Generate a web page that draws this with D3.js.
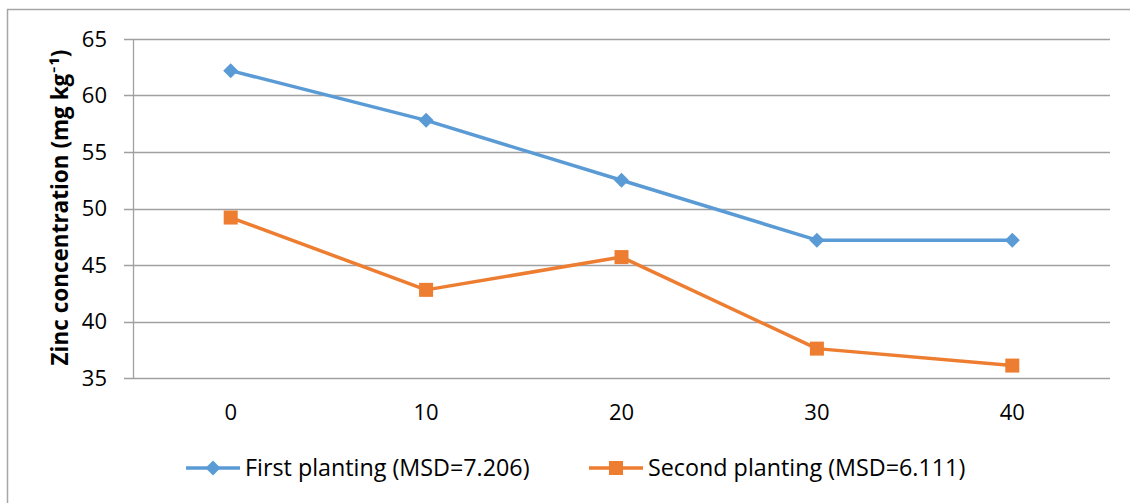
<!DOCTYPE html>
<html><head><meta charset="utf-8">
<script src="https://cdn.jsdelivr.net/npm/d3@7"></script>
<style>body{margin:0;background:#fff}svg{display:block}text{font-family:"Open Sans",Calibri,sans-serif}</style>
</head><body>
<svg id="c" width="1130" height="503"></svg>
<script>
const categories = [0, 10, 20, 30, 40];
const firstPlanting = [62.2, 57.8, 52.5, 47.2, 47.2];
const secondPlanting = [49.2, 42.8, 45.7, 37.6, 36.1];
const yTicks = [35, 40, 45, 50, 55, 60, 65];
const seriesNames = ["First planting (MSD=7.206)", "Second planting (MSD=6.111)"];
const yLabel = "Zinc concentration (mg kg\u207B\u00B9)";

const svg = d3.select("#c");
const L = 133, R = 1110, T = 39, B = 378;
const x = d3.scalePoint().domain(categories).range([L, R]).padding(0.5);
const y = d3.scaleLinear().domain([35, 65]).range([B, T]);

// outer border
svg.append("rect").attr("x", 7.5).attr("y", 9.5).attr("width", 1140).attr("height", 520)
  .attr("fill", "none").attr("stroke", "#a6a6a6").attr("stroke-width", 1.5);

// gridlines
svg.append("g").selectAll("line").data(yTicks).join("line")
  .attr("x1", 124).attr("x2", R).attr("y1", d => Math.round(y(d)) + 0.5).attr("y2", d => Math.round(y(d)) + 0.5)
  .attr("stroke", "#a0a0a0").attr("stroke-width", 1.3);
// y axis line
svg.append("line").attr("x1", L + 0.5).attr("x2", L + 0.5).attr("y1", T).attr("y2", B + 1)
  .attr("stroke", "#a0a0a0").attr("stroke-width", 1.3);

// y tick labels
svg.append("g").selectAll("text").data(yTicks).join("text")
  .attr("x", 107).attr("y", d => y(d)).attr("dy", "0.36em").attr("text-anchor", "end")
  .attr("font-size", 22).attr("fill", "#000").text(d => d);

// x tick labels
svg.append("g").selectAll("text").data(categories).join("text")
  .attr("x", d => x(d)).attr("y", 420).attr("text-anchor", "middle")
  .attr("font-size", 22).attr("fill", "#000").text(d => d);

// y label
svg.append("text").attr("transform", `translate(68,${(T + B) / 2 - 1}) rotate(-90)`)
  .attr("text-anchor", "middle").attr("font-size", 22.5).attr("font-weight", "bold").attr("fill", "#000")
  .text(yLabel);

const line = d3.line().x((d, i) => x(categories[i])).y(d => y(d));
const colors = ["#5b9bd5", "#ed7d31"];
const datas = [firstPlanting, secondPlanting];
const diamond = s => `M0,${-s}L${s},0L0,${s}L${-s},0Z`;

datas.forEach((data, k) => {
  svg.append("path").datum(data).attr("d", line).attr("fill", "none")
    .attr("stroke", colors[k]).attr("stroke-width", 3.5).attr("stroke-linejoin", "round");
  const g = svg.append("g");
  if (k === 0) {
    g.selectAll("path").data(data).join("path")
      .attr("transform", (d, i) => `translate(${x(categories[i])},${y(d)})`)
      .attr("d", diamond(7.5)).attr("fill", colors[k]);
  } else {
    g.selectAll("rect").data(data).join("rect")
      .attr("x", (d, i) => x(categories[i]) - 7).attr("y", d => y(d) - 7)
      .attr("width", 14).attr("height", 14).attr("fill", colors[k]);
  }
});

// legend
const legX = [186, 589];
const lg = svg.append("g");
seriesNames.forEach((name, k) => {
  const lx = legX[k], ly = 468;
  lg.append("line").attr("x1", lx).attr("x2", lx + 54).attr("y1", ly).attr("y2", ly)
    .attr("stroke", colors[k]).attr("stroke-width", 3.5);
  if (k === 0) lg.append("path").attr("transform", `translate(${lx + 27},${ly})`).attr("d", diamond(7.5)).attr("fill", colors[k]);
  else lg.append("rect").attr("x", lx + 27 - 7).attr("y", ly - 7).attr("width", 14).attr("height", 14).attr("fill", colors[k]);
  lg.append("text").attr("x", lx + 59).attr("y", ly).attr("dy", "0.36em").attr("font-size", 23.3)
    .attr("fill", "#000").text(name);
});
</script>
</body></html>
